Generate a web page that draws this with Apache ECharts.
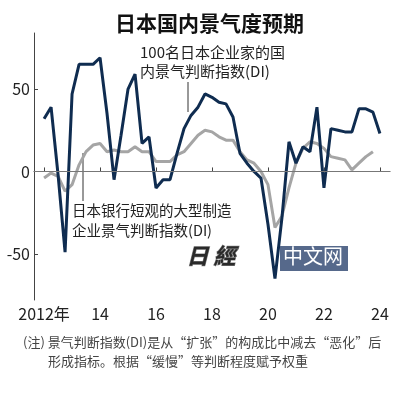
<!DOCTYPE html>
<html><head><meta charset="utf-8">
<script src="https://cdn.jsdelivr.net/npm/echarts@6/dist/echarts.min.js"></script>
<style>html,body{margin:0;padding:0;background:#fff}#c{width:400px;height:395px}</style>
</head><body><div id="c"></div>
<script>
const quarters = [
 '2012Q1','2012Q2','2012Q3','2012Q4','2013Q1','2013Q2','2013Q3','2013Q4',
 '2014Q1','2014Q2','2014Q3','2014Q4','2015Q1','2015Q2','2015Q3','2015Q4',
 '2016Q1','2016Q2','2016Q3','2016Q4','2017Q1','2017Q2','2017Q3','2017Q4',
 '2018Q1','2018Q2','2018Q3','2018Q4','2019Q1','2019Q2','2019Q3','2019Q4',
 '2020Q1','2020Q2','2020Q3','2020Q4','2021Q1','2021Q2','2021Q3','2021Q4',
 '2022Q1','2022Q2','2022Q3','2022Q4','2023Q1','2023Q2','2023Q3','2023Q4',
 '2024Q1'];
// 100名日本企业家的国内景气判断指数(DI)
const executivesDI = [
 32, 39, -2, -49, 47, 65, 65, 65,
 69, 35, -5, 22, 50, 59, 17, 21,
 -10, -5, -5, 11, 26, 34, 39, 47,
 45, 42, 41, 33, 11, 5, 0, -4,
 -32, -65, -28, 18, 5, 15, 12, 39,
 -10, 26, 25, 24, 24, 38, 38, 36,
 23];
// 日本银行短观的大型制造企业景气判断指数(DI)
const tankanDI = [
 -4, -1, -3, -12, -8, 4, 12, 16,
 17, 12, 13, 12, 12, 15, 12, 12,
 6, 6, 6, 10, 12, 17, 22, 25,
 24, 21, 19, 19, 12, 7, 5, 0,
 -8, -34, -27, -10, 5, 14, 18, 17,
 14, 9, 8, 7, 1, 5, 9, 12];
const xTickYears = [2012, 2014, 2016, 2018, 2020, 2022, 2024];
const xTickLabels = ['2012年', '14', '16', '18', '20', '22', '24'];
const yTicks = [-50, 0, 50];

const toYear = q => parseInt(q.slice(0, 4)) + (parseInt(q.slice(5)) - 1) / 4;
const execData = executivesDI.map((v, i) => [toYear(quarters[i]), v]);
const tankanData = tankanDI.map((v, i) => [toYear(quarters[i]), v]);

const CJK = "'Noto Sans CJK SC','Noto Sans',sans-serif";
const NUM = "'Liberation Sans Narrow','Noto Sans CJK SC',sans-serif";

const chart = echarts.init(document.getElementById('c'), null, {renderer: 'canvas'});
chart.setOption({
  animation: false,
  backgroundColor: '#fff',
  title: {
    text: '日本国内景气度预期',
    left: 110, top: 8,
    textStyle: {fontFamily: CJK, fontSize: 21, fontWeight: 'bold', color: '#111'}
  },
  grid: {left: 34, right: 10, top: 33, bottom: 95},
  xAxis: {
    type: 'value', min: 2011.64, max: 2024.36,
    axisLine: {show: true, lineStyle: {color: '#444', width: 1}},
    axisTick: {show: true, inside: true, length: 4, customValues: xTickYears, lineStyle: {color: '#444'}},
    axisLabel: {
      customValues: xTickYears, margin: 6,
      fontFamily: NUM, fontSize: 16, color: '#222',
      formatter: v => xTickLabels[xTickYears.indexOf(Math.round(v))] || ''
    },
    splitLine: {show: false}
  },
  yAxis: {
    type: 'value', min: -78, max: 84,
    axisLine: {show: true, lineStyle: {color: '#444', width: 1}},
    axisTick: {show: true, inside: true, length: 4, customValues: yTicks, lineStyle: {color: '#444'}},
    axisLabel: {customValues: yTicks, margin: 4, fontFamily: NUM, fontSize: 16, color: '#222'},
    splitLine: {show: false}
  },
  series: [
    {
      name: 'tankan', type: 'line', data: tankanData, showSymbol: false, z: 2,
      lineStyle: {color: '#a5a5a5', width: 3},
      markLine: {
        silent: true, symbol: 'none', label: {show: false},
        lineStyle: {color: '#777', width: 1.2, type: 'solid'},
        data: [{yAxis: 0}]
      }
    },
    {
      name: 'exec', type: 'line', data: execData, showSymbol: false, z: 3,
      lineStyle: {color: '#0f2c50', width: 3}
    }
  ],
  graphic: [
    {type: 'text', left: 140, top: 43, style: {text: '100名日本企业家的国\n内景气判断指数(DI)', font: "15px 'Noto Sans CJK SC'", fill: '#222', lineHeight: 19}},
    {type: 'line', shape: {x1: 188, y1: 82, x2: 188, y2: 112}, style: {stroke: '#333', lineWidth: 1}},
    {type: 'text', left: 72, top: 201, style: {text: '日本银行短观的大型制造\n企业景气判断指数(DI)', font: "14.5px 'Noto Sans CJK SC'", fill: '#222', lineHeight: 19.5}},
    {type: 'line', shape: {x1: 83, y1: 153, x2: 83, y2: 201}, style: {stroke: '#333', lineWidth: 1}},
    {type: 'text', left: 186, top: 244, z: 10, style: {text: '日 經', font: "italic bold 22px 'Noto Sans CJK SC'", fill: '#2a2a2a', stroke: '#888', lineWidth: 1}},
    {type: 'rect', z: 10, shape: {x: 280, y: 246, width: 68, height: 25}, style: {fill: '#56698b'}},
    {type: 'text', left: 283, top: 246, z: 11, style: {text: '中文网', font: "20px 'Noto Sans CJK SC'", fill: '#fff'}},
    {type: 'text', left: 23, top: 336, style: {text: '(注) 景气判断指数(DI)是从“扩张”的构成比中减去“恶化”后', font: "13px 'Noto Sans CJK SC'", fill: '#444'}},
    {type: 'text', left: 48, top: 355, style: {text: '形成指标。根据“缓慢”等判断程度赋予权重', font: "13px 'Noto Sans CJK SC'", fill: '#444'}}
  ]
});
</script>
</body></html>
